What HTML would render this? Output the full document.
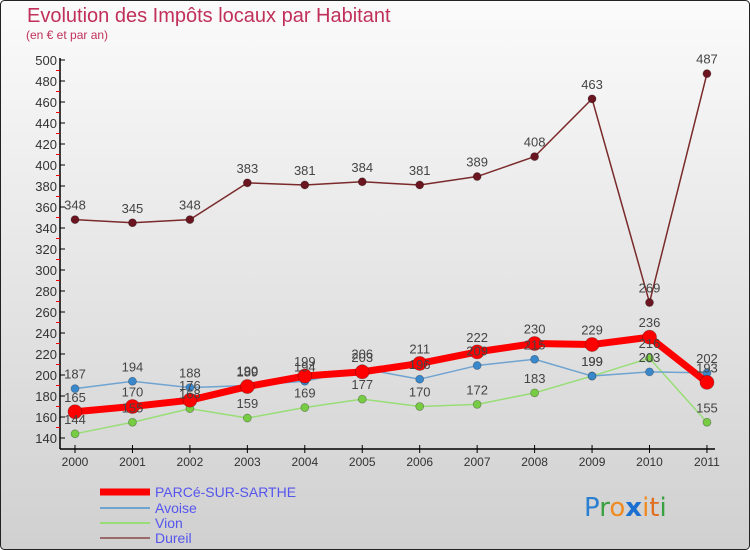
<!DOCTYPE html>
<html><head><meta charset="utf-8"><style>
body{margin:0;width:750px;height:550px;overflow:hidden}
svg{display:block;font-family:"Liberation Sans",sans-serif}
</style></head><body>
<svg id="c" width="750" height="550" viewBox="0 0 750 550">
<defs><linearGradient id="bg" x1="0" y1="0" x2="0" y2="1"><stop offset="0" stop-color="#fbfbfb"/><stop offset="1" stop-color="#d0d0d0"/></linearGradient></defs>
<rect x="0.5" y="0.5" width="749" height="549" rx="4" fill="url(#bg)" stroke="#222"/>
<text x="27" y="22" font-size="20" fill="#c0305a">Evolution des Impôts locaux par Habitant</text>
<text x="26" y="39" font-size="12" fill="#c0305a">(en € et par an)</text>
<g id="axes"></g><g id="series"></g><g id="labels"></g>
<g>
<line x1="100" y1="492" x2="150" y2="492" stroke="#f00" stroke-width="7"/>
<text x="155" y="497" font-size="14" fill="#5555ee">PARCé-SUR-SARTHE</text>
<line x1="100" y1="508" x2="150" y2="508" stroke="#6fa3d0" stroke-width="2"/>
<text x="155" y="513" font-size="14" fill="#5555ee">Avoise</text>
<line x1="100" y1="523" x2="150" y2="523" stroke="#99dd77" stroke-width="2"/>
<text x="155" y="528" font-size="14" fill="#5555ee">Vion</text>
<line x1="100" y1="538" x2="150" y2="538" stroke="#9a6a6a" stroke-width="2"/>
<text x="155" y="543" font-size="14" fill="#5555ee">Dureil</text>
</g>
<text x="584" y="516" font-size="26" font-family="'DejaVu Sans',sans-serif"><tspan fill="#2a7fd0">P</tspan><tspan fill="#3aa040">r</tspan><tspan fill="#f08a20">o</tspan><tspan fill="#1a6fd0" font-weight="bold">x</tspan><tspan fill="#f08a20">i</tspan><tspan fill="#e07020">t</tspan><tspan fill="#3aa040">i</tspan></text>
</svg>
<script>
const years=["2000","2001","2002","2003","2004","2005","2006","2007","2008","2009","2010","2011"];
const parce=[165,170,176,189,199,203,211,222,230,229,236,193];
const avoise=[187,194,188,190,194,206,196,209,215,199,203,202];
const vion=[144,155,168,159,169,177,170,172,183,199,216,155];
const dureil=[348,345,348,383,381,384,381,389,408,463,269,487];
const yTicks=[140,160,180,200,220,240,260,280,300,320,340,360,380,400,420,440,460,480,500];
const NS="http://www.w3.org/2000/svg";
const X=i=>75+i*57.45, Y=v=>438-(v-140)*1.05;
function mk(t,a,p){const e=document.createElementNS(NS,t);for(const k in a)e.setAttribute(k,a[k]);p.appendChild(e);return e;}
const ax=document.getElementById('axes');
let l=mk('line',{x1:60,y1:58,x2:60,y2:449,stroke:'#000','stroke-width':1.5},ax);


l=mk('line',{x1:60,y1:449,x2:715,y2:449,stroke:'#000','stroke-width':1.5},ax);


yTicks.forEach((v,i)=>{
 mk('line',{x1:60,y1:Y(v),x2:65,y2:Y(v),stroke:'#000'},ax);
 if(i<yTicks.length-1) mk('line',{x1:56,y1:Y(v+10),x2:60,y2:Y(v+10),stroke:'#e00'},ax);
 const t=mk('text',{x:57,y:Y(v)+5,'font-size':13,fill:'#333','text-anchor':'end'},ax);t.textContent=v;
 
 
});
years.forEach((y,i)=>{
 mk('line',{x1:X(i),y1:445,x2:X(i),y2:453,stroke:'#000'},ax);
 const t=mk('text',{x:X(i),y:466,'font-size':12,fill:'#333','text-anchor':'middle'},ax);t.textContent=y;
 
 
});
const sg=document.getElementById('series'),lg=document.getElementById('labels');
function series(d,name,col,dot,w,r){
 const p=mk('polyline',{points:d.map((v,i)=>X(i)+','+Y(v)).join(' '),fill:'none',stroke:col,'stroke-width':w,'stroke-linejoin':'round'},sg);
 
 
 d.forEach((v,i)=>{
  const c=mk('circle',{cx:X(i),cy:Y(v),r:r,fill:dot,stroke:'rgba(0,0,0,0.3)','stroke-width':0.8},sg);
  
  
  const t=mk('text',{x:X(i),y:Y(v)-10,'font-size':13,fill:'#444','text-anchor':'middle'},lg);t.textContent=v;
  
  
 });
}
series(dureil,'dureil','#7a2a2a','#6a1520',1.5,4);
series(vion,'vion','#99dd77','#77cc44',1.5,4);
series(avoise,'avoise','#6fa3d0','#3a88cc',1.5,4);
series(parce,'parce','#f00','#f00',7,7);
</script>
</body></html>
